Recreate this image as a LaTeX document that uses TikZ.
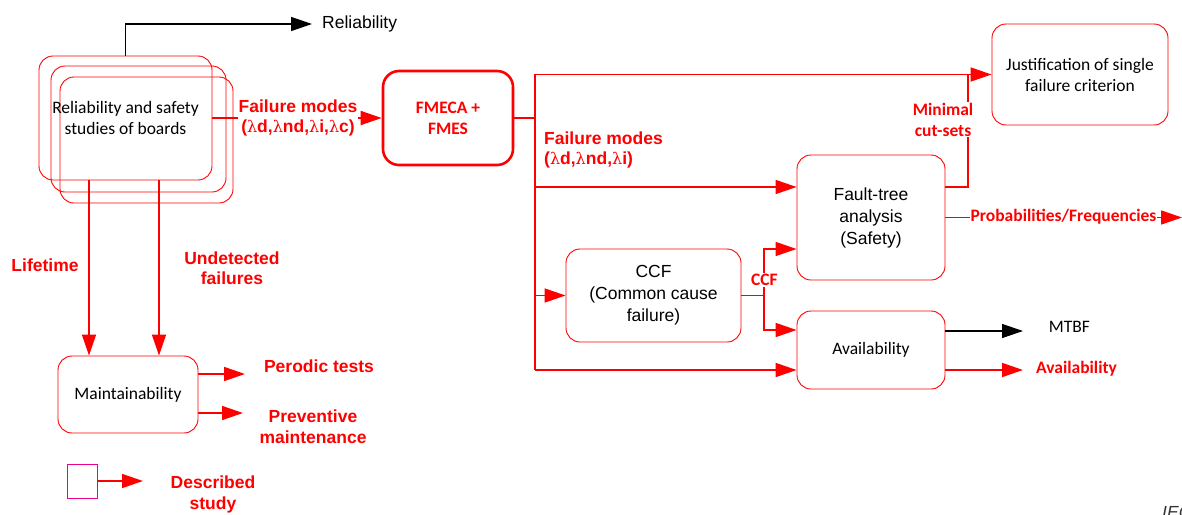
\documentclass[tikz,border=0pt]{standalone}
\usepackage{fontspec}
\setmainfont{Carlito}
\newfontfamily\arial{Liberation Sans}
\newfontfamily\lamfont{DejaVu Serif}
\newcommand{\lm}{{\lamfont\mdseries\fontsize{16}{20}\selectfont λ}}
\usetikzlibrary{arrows.meta}
\begin{document}
\begin{tikzpicture}[x=1pt,y=-1pt,
  bx/.style={draw=red,line width=0.9pt,rounded corners=14pt,inner sep=0pt,align=center,
    font=\fontsize{17.5}{21}\selectfont},
  abx/.style={bx,font=\arial\fontsize{17.5}{22}\selectfont},
  rl/.style={draw=red,line width=1.6pt},
  ra/.style={rl,-{Triangle[length=21pt,width=14pt]}},
  ka/.style={draw=black,line width=1.4pt,-{Triangle[length=21pt,width=14pt]}},
  lbl/.style={text=red,align=center,inner sep=1pt,font=\arial\bfseries\fontsize{17.5}{20.5}\selectfont},
  lblc/.style={text=red,align=center,inner sep=1pt,font=\bfseries\fontsize{17.5}{21}\selectfont},
  txa/.style={align=center,inner sep=0pt,font=\arial\fontsize{17.5}{21}\selectfont},
  txc/.style={align=center,inner sep=0pt,font=\fontsize{17.5}{21}\selectfont}
]
\useasboundingbox (0,0) rectangle (1182,514);
\clip (0,0) rectangle (1182,514);

% board stack
\node[bx,minimum width=173pt,minimum height=126pt] (b3) at (146.5,140) {};
\node[bx,minimum width=175pt,minimum height=126pt] (b2) at (138.5,129) {};
\node[bx,minimum width=173pt,minimum height=124pt] (b1) at (125.5,118) {Reliability and safety\\studies of boards};

% Reliability
\node[txa,anchor=west,inner xsep=10pt] (rel) at (312,24) {Reliability};
\draw[ka] (b1.north) |- (rel.west);

% FMECA
\node[bx,line width=2.6pt,rounded corners=16pt,minimum width=130pt,minimum height=94pt,
  text=red,font=\bfseries\fontsize{17.5}{21}\selectfont] (fm) at (448,118) {FMECA +\\FMES};
\draw[ra] (b1.east) -- (fm.west);
\node[lbl,fill=white] (fmlab) at (298,118) {Failure modes\\(\lm d,\lm nd,\lm i,\lm c)};

% right side boxes
\node[bx,minimum width=176pt,minimum height=101pt] (jus) at (1080,74.5) {Justification of single\\failure criterion};
\node[abx,minimum width=148pt,minimum height=125pt] (ft) at (871,217.5) {Fault-tree\\analysis\\(Safety)};
\node[abx,minimum width=175pt,minimum height=93pt] (ccf) at (653.5,295.5) {CCF\\(Common cause\\failure)};
\node[bx,minimum width=148pt,minimum height=78pt] (av) at (871,350) {Availability};

% ports
\coordinate (ftin) at ([yshift=30.5pt]ft.west);
\coordinate (ftcc) at ([yshift=-31.5pt]ft.west);
\coordinate (ftout) at ([yshift=30.5pt]ft.east);
\coordinate (avcc) at ([yshift=20pt]av.west);
\coordinate (avin) at ([yshift=-20pt]av.west);
\coordinate (avmt) at ([yshift=19pt]av.east);
\coordinate (avav) at ([yshift=-20pt]av.east);

% bus
\coordinate (bt) at (535,74.5);
\coordinate (bb) at (535,370);
\draw[rl] (fm.east) -- (fm.east -| bt);
\draw[ra] (bb) -- (bt) -- (jus.west);
\draw[ra] (bt |- ftin) -- (ftin);
\draw[ra] (bt |- ccf.west) -- (ccf.west);
\draw[ra] (bb) -- (avin);
\node[lbl,anchor=west,align=left] (fmlab2) at (543,150) {Failure modes\\(\lm d,\lm nd,\lm i)};

% CCF outputs
\coordinate (cj) at (764,295.5);
\draw[rl] (ccf.east) -- (cj);
\draw[ra] (cj) |- (ftcc);
\draw[ra] (cj) |- (avcc);
\node[lblc,fill=white] (ccflab) at (764.5,280) {CCF};

% fault tree outputs
\coordinate (mc) at (968,74.5);
\draw[rl] (ftout) -| (mc);
\node[lblc,fill=white] (mclab) at (943,119.5) {Minimal\\cut-sets};
\coordinate (pf) at (1182,217.5);
\draw[ra] (ft.east) -- (pf);
\node[lblc,fill=white] (pflab) at (1063.5,217) {Probabilities/Frequencies};

% availability outputs
\coordinate (mt) at (1023,331);
\coordinate (ao) at (1023,370);
\draw[ka,line width=1.3pt] (avmt) -- (mt);
\draw[ra] (avav) -- (ao);
\node[txc] (mtbf) at (1069.5,327) {MTBF};
\node[lblc] (avlab) at (1076.5,369) {Availability};

% maintainability
\node[bx,minimum width=140pt,minimum height=77pt] (mn) at (128,394.5) {Maintainability};
\draw[ra] ([xshift=-36.5pt]b1.south) -- ([xshift=-39pt]mn.north);
\draw[ra] ([xshift=33.5pt]b1.south) -- ([xshift=31pt]mn.north);
\node[lbl] (life) at (45,265) {Lifetime};
\node[lbl] (und) at (232,268) {Undetected\\failures};
\coordinate (pt) at (245,374);
\coordinate (pm) at (243,413);
\draw[ra] ([yshift=20.5pt]mn.east) -- (pt);
\draw[ra] ([yshift=-18.5pt]mn.east) -- (pm);
\node[lbl] (ptlab) at (319,366) {Perodic tests};
\node[lbl] (pmlab) at (313,426.5) {Preventive\\maintenance};

% legend
\node[draw=magenta,line width=0.9pt,minimum width=30pt,minimum height=34pt,inner sep=0pt] (sq) at (82,481) {};
\coordinate (lg) at (143,481);
\draw[ra] (sq.east) -- (lg);
\node[lbl] (dslab) at (213,494.5) {Described\\study};

% IEC mark
\node[anchor=west,inner sep=0pt,font=\arial\itshape\fontsize{17.5}{21}\selectfont,text=black!80] (iec) at (1162,512) {IEC};
\end{tikzpicture}
\end{document}
